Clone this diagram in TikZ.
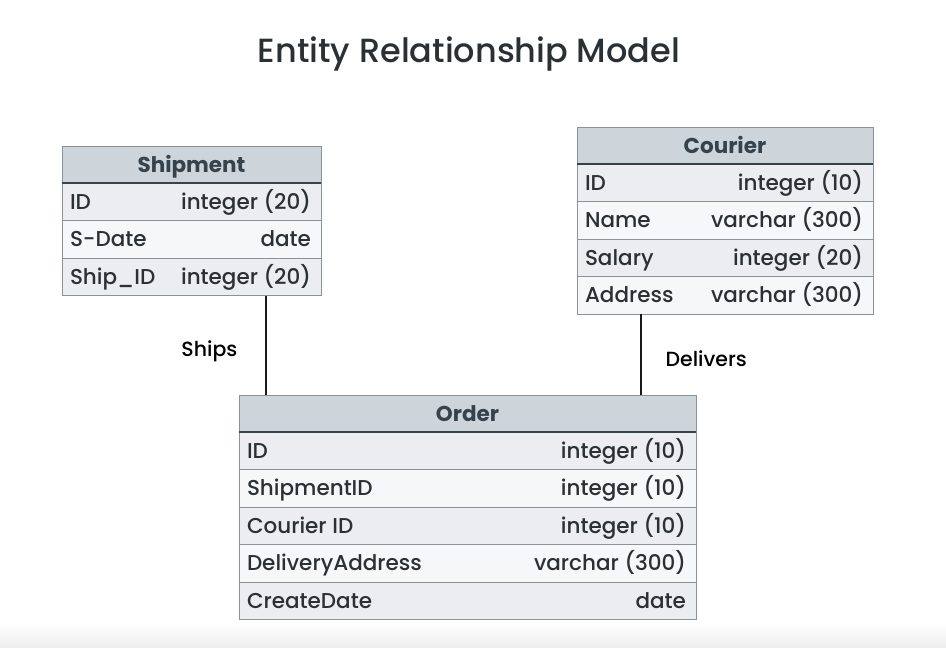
\documentclass[tikz,border=0pt]{standalone}
\usepackage{fontspec}
\setmainfont{Poppins}[UprightFont=* Medium, BoldFont=* Bold]
\usetikzlibrary{positioning}

\definecolor{headfill}{HTML}{CDD5DA}
\definecolor{headtext}{HTML}{36434C}
\definecolor{rowdark}{HTML}{EBEDF0}
\definecolor{rowlight}{HTML}{F5F7F9}
\definecolor{edge}{HTML}{8A9298}
\definecolor{ink}{HTML}{2B3034}

\tikzset{
  tabhead/.style={draw=edge, fill=headfill, minimum height=37.5pt, inner sep=0pt,
    text height=15pt, text depth=0pt,
    text=headtext, font=\fontsize{21.5}{25}\selectfont\bfseries},
  tabrow/.style={draw=edge, minimum height=37.5pt, inner sep=0pt},
  fieldname/.style={anchor=west, inner xsep=8pt, inner ysep=0pt, text height=15pt, text depth=0pt,
    text=ink, font=\fontsize{21.5}{25}\selectfont},
  fieldtype/.style={anchor=east, inner xsep=10pt, inner ysep=0pt, text height=15pt, text depth=0pt,
    text=ink, font=\fontsize{21.5}{25}\selectfont},
  headline/.style={draw=headtext, line width=2pt},
  link/.style={draw=black!90, line width=2.5pt},
  linklabel/.style={text=black, font=\fontsize{20.5}{24}\selectfont}
}

\begin{document}
\begin{tikzpicture}[x=1pt,y=-1pt]
            \useasboundingbox (0,0) rectangle (946,648);
            \shade[top color=white, bottom color=black!7] (0,622) rectangle (946,648);

            \node[text=ink, font=\fontsize{33.5}{40}\selectfont] (title) at (469,54) {Entity Relationship Model};

            % Shipment
            \node[tabhead, minimum width=259pt] (shiph) at (191.5,164.5) {Shipment};
            \node[tabrow, fill=rowdark, minimum width=259pt] (ship1) at (191.5,201.75) {};
            \node[tabrow, fill=rowlight, minimum width=259pt] (ship2) at (191.5,239.25) {};
            \node[tabrow, fill=rowdark, minimum width=259pt] (ship3) at (191.5,276.75) {};
            \node[fieldname] (ship1n) at (ship1.west) {ID};
            \node[fieldtype] (ship1t) at (ship1.east) {integer (20)};
            \node[fieldname] (ship2n) at (ship2.west) {S-Date};
            \node[fieldtype] (ship2t) at (ship2.east) {date};
            \node[fieldname] (ship3n) at (ship3.west) {Ship\_ID};
            \node[fieldtype] (ship3t) at (ship3.east) {integer (20)};
            \draw[headline] (shiph.south west) -- (shiph.south east);

            % Courier
            \node[tabhead, minimum width=296pt] (courh) at (725,145.5) {Courier};
            \node[tabrow, fill=rowdark, minimum width=296pt] (cour1) at (725,182.75) {};
            \node[tabrow, fill=rowlight, minimum width=296pt] (cour2) at (725,220.25) {};
            \node[tabrow, fill=rowdark, minimum width=296pt] (cour3) at (725,257.75) {};
            \node[tabrow, fill=rowlight, minimum width=296pt] (cour4) at (725,295.25) {};
            \node[fieldname] (cour1n) at (cour1.west) {ID};
            \node[fieldtype] (cour1t) at (cour1.east) {integer (10)};
            \node[fieldname] (cour2n) at (cour2.west) {Name};
            \node[fieldtype] (cour2t) at (cour2.east) {varchar (300)};
            \node[fieldname] (cour3n) at (cour3.west) {Salary};
            \node[fieldtype] (cour3t) at (cour3.east) {integer (20)};
            \node[fieldname] (cour4n) at (cour4.west) {Address};
            \node[fieldtype] (cour4t) at (cour4.east) {varchar (300)};
            \draw[headline] (courh.south west) -- (courh.south east);

            % Order
            \node[tabhead, minimum width=457pt] (ordh) at (467.5,413.5) {Order};
            \node[tabrow, fill=rowdark, minimum width=457pt] (ord1) at (467.5,450.75) {};
            \node[tabrow, fill=rowlight, minimum width=457pt] (ord2) at (467.5,488.25) {};
            \node[tabrow, fill=rowdark, minimum width=457pt] (ord3) at (467.5,525.75) {};
            \node[tabrow, fill=rowlight, minimum width=457pt] (ord4) at (467.5,563.25) {};
            \node[tabrow, fill=rowdark, minimum width=457pt] (ord5) at (467.5,600.75) {};
            \node[fieldname] (ord1n) at (ord1.west) {ID};
            \node[fieldtype] (ord1t) at (ord1.east) {integer (10)};
            \node[fieldname] (ord2n) at (ord2.west) {ShipmentID};
            \node[fieldtype] (ord2t) at (ord2.east) {integer (10)};
            \node[fieldname] (ord3n) at (ord3.west) {Courier ID};
            \node[fieldtype] (ord3t) at (ord3.east) {integer (10)};
            \node[fieldname] (ord4n) at (ord4.west) {DeliveryAddress};
            \node[fieldtype] (ord4t) at (ord4.east) {varchar (300)};
            \node[fieldname] (ord5n) at (ord5.west) {CreateDate};
            \node[fieldtype] (ord5t) at (ord5.east) {date};
            \draw[headline] (ordh.south west) -- (ordh.south east);

            \draw[link] ([xshift=74.5pt]ship3.south) -- node[linklabel, pos=0.56, left=24pt] (ships) {Ships} ([xshift=74.5pt]ship3.south |- ordh.north);
            \draw[link] ([xshift=-84pt]cour4.south) -- node[linklabel, pos=0.55, right=20pt] (delivers) {Delivers} ([xshift=-84pt]cour4.south |- ordh.north);
        \end{tikzpicture}
\end{document}
